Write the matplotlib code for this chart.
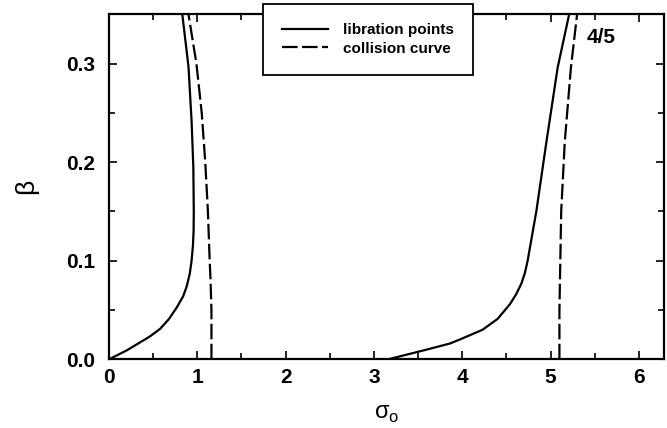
import numpy as np
import matplotlib.pyplot as plt
from matplotlib.ticker import MultipleLocator

plt.rcParams['font.family'] = ['Liberation Sans', 'DejaVu Sans']
plt.rcParams['font.weight'] = 'bold'
plt.rcParams['mathtext.fontset'] = 'custom'
plt.rcParams['mathtext.rm'] = 'Liberation Sans'

# libration points, left branch (sigma_o, beta)
lib1_x = [0.0, 0.2, 0.46, 0.58, 0.68, 0.77, 0.84, 0.88, 0.915, 0.935, 0.95, 0.958, 0.96, 0.955, 0.935, 0.90, 0.83]
lib1_y = [0.0, 0.009, 0.023, 0.031, 0.041, 0.053, 0.064, 0.074, 0.087, 0.100, 0.115, 0.130, 0.150, 0.195, 0.242, 0.297, 0.350]

# collision curve, left branch
col1_x = [1.16, 1.16, 1.15, 1.14, 1.12, 1.09, 1.05, 0.99, 0.90]
col1_y = [0.0, 0.05, 0.08, 0.10, 0.15, 0.20, 0.25, 0.30, 0.35]

# libration points, right branch
lib2_x = [3.16, 3.56, 3.86, 3.97, 4.23, 4.40, 4.54, 4.61, 4.67, 4.71, 4.74, 4.84, 4.95, 5.08, 5.21]
lib2_y = [0.0, 0.009, 0.016, 0.020, 0.030, 0.041, 0.056, 0.066, 0.077, 0.088, 0.100, 0.151, 0.219, 0.296, 0.350]

# collision curve, right branch
col2_x = [5.10, 5.10, 5.11, 5.12, 5.16, 5.23, 5.30]
col2_y = [0.0, 0.05, 0.10, 0.15, 0.22, 0.296, 0.35]

fig = plt.figure(figsize=(6.67, 4.28), dpi=100)
ax = fig.add_axes([0.1634, 0.1605, 0.832, 0.806])

ax.plot(lib1_x, lib1_y, 'k-', lw=1.6, label='libration points')
ax.plot(col1_x, col1_y, 'k--', lw=1.6, dashes=(7, 2), label='collision curve')
ax.plot(lib2_x, lib2_y, 'k-', lw=1.6)
ax.plot(col2_x, col2_y, 'k--', lw=1.6, dashes=(7, 2))

ax.set_xlim(0, 2 * np.pi)
ax.set_ylim(0, 0.35)
ax.xaxis.set_major_locator(MultipleLocator(1))
ax.xaxis.set_minor_locator(MultipleLocator(0.5))
ax.yaxis.set_major_locator(MultipleLocator(0.1))
ax.yaxis.set_minor_locator(MultipleLocator(0.05))
ax.yaxis.set_major_formatter(plt.FormatStrFormatter('%.1f'))
ax.tick_params(which='both', direction='in', top=True, right=True, width=1.2)
ax.tick_params(which='major', length=6, labelsize=15)
ax.tick_params(axis='y', which='major', pad=10)
ax.tick_params(axis='x', which='major', pad=6)
ax.tick_params(which='minor', length=4)
for s in ax.spines.values():
    s.set_linewidth(1.6)

ax.set_xlabel('σ$_\\mathregular{o}$', fontsize=17, fontweight='normal', labelpad=12)
ax.set_ylabel('β', fontsize=19, fontweight='normal', labelpad=20)

ax.text(5.41, 0.3266, '4/5', fontsize=15, fontweight='bold', ha='left', va='center')

leg = fig.legend(loc='upper left', bbox_to_anchor=(263 / 667, 1 - 4 / 428),
                 fontsize=11, frameon=True, fancybox=False, handlelength=3.0,
                 borderpad=1.25, labelspacing=0.3, borderaxespad=0,
                 handletextpad=1.0)
leg.get_frame().set_edgecolor('black')
leg.get_frame().set_linewidth(1.3)
leg.get_frame().set_alpha(1)

fig.savefig('out.png', dpi=100)
